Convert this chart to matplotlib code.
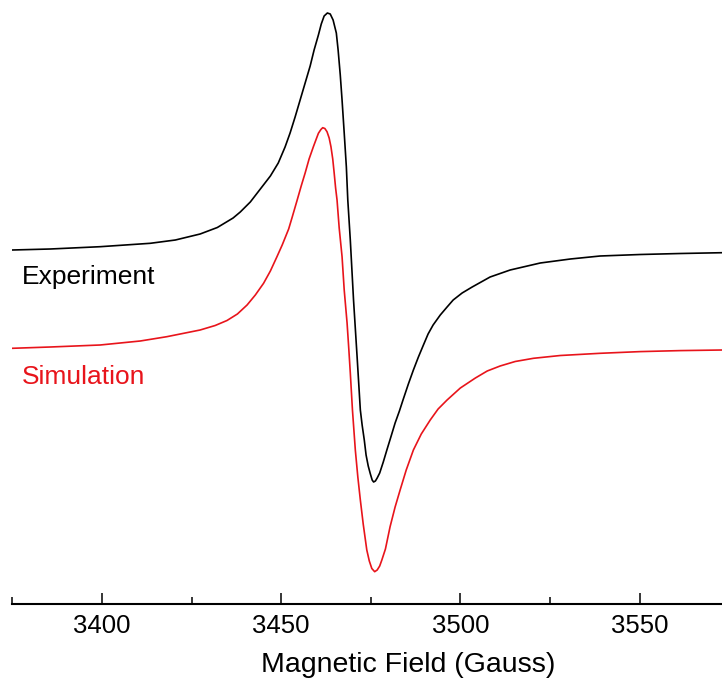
import matplotlib
matplotlib.use("Agg")
import matplotlib.pyplot as plt
from matplotlib.ticker import MultipleLocator

plt.rcParams['font.family'] = ['Liberation Sans', 'DejaVu Sans']

# Magnetic field (Gauss) and intensity (a.u.)
exp_field = [3375.0, 3385.6, 3399.5, 3413.5, 3420.5, 3427.4, 3432.2, 3436.6, 3438.6,
             3441.4, 3444.2, 3447.0, 3449.2, 3451.1, 3452.5, 3453.9, 3455.3, 3456.7,
             3458.1, 3459.2, 3460.4, 3461.2, 3462.0, 3462.9, 3463.7, 3464.5, 3465.4,
             3465.9, 3466.5, 3467.0, 3467.6, 3468.2, 3468.6, 3469.3, 3470.2, 3471.2,
             3472.1, 3472.6, 3473.2, 3473.7, 3474.3, 3474.9, 3475.4, 3475.8, 3476.3,
             3476.8, 3477.5, 3478.5, 3479.5, 3480.7, 3481.8, 3483.0, 3484.0, 3485.5,
             3486.9, 3488.3, 3489.7, 3491.0, 3492.4, 3494.4, 3496.3, 3498.0, 3500.5,
             3503.3, 3508.3, 3513.9, 3522.3, 3530.7, 3539.0, 3550.2, 3561.4, 3573.1]
exp_signal = [354.0, 355.0, 357.3, 360.7, 364.0, 370.0, 376.5, 386.0, 392.0,
              402.0, 415.0, 428.0, 441.0, 457.0, 471.0, 487.0, 504.0, 521.0,
              538.0, 554.0, 569.0, 580.0, 588.0, 591.0, 590.0, 584.0, 571.0,
              554.0, 529.0, 504.0, 471.0, 437.0, 404.0, 364.0, 304.0, 247.0,
              194.0, 179.0, 164.0, 149.0, 138.0, 130.0, 124.0, 122.0, 123.0,
              126.0, 131.0, 142.0, 154.0, 168.0, 181.0, 193.0, 204.0, 220.0,
              234.0, 247.0, 259.0, 270.0, 279.0, 289.0, 297.0, 304.0, 311.0,
              317.0, 327.0, 334.0, 341.0, 345.0, 348.0, 349.5, 350.5, 351.3]

sim_field = [3375.0, 3385.6, 3399.5, 3410.7, 3418.1, 3427.4, 3431.6, 3434.9, 3437.8,
             3440.5, 3442.8, 3445.1, 3447.0, 3448.8, 3450.3, 3452.1, 3453.1, 3454.4,
             3455.6, 3456.7, 3457.8, 3459.0, 3459.8, 3460.4, 3461.1, 3461.6, 3462.2,
             3462.8, 3463.4, 3463.9, 3464.4, 3464.8, 3465.2, 3465.6, 3466.2, 3467.0,
             3467.6, 3468.4, 3468.9, 3469.3, 3469.9, 3470.7, 3471.4, 3472.1, 3472.9,
             3473.9, 3474.6, 3475.3, 3476.1, 3476.8, 3477.5, 3478.1, 3479.1, 3480.4,
             3481.8, 3483.2, 3484.9, 3486.9, 3489.1, 3491.6, 3493.8, 3496.3, 3500.0,
             3504.2, 3507.5, 3511.1, 3515.3, 3520.4, 3527.9, 3539.0, 3550.2, 3561.4,
             3573.1]
sim_signal = [255.7, 257.0, 259.0, 263.0, 267.3, 274.0, 278.5, 283.5, 290.0,
              299.0, 309.0, 320.7, 333.0, 347.0, 359.0, 375.0, 387.0, 403.0,
              418.0, 431.0, 445.0, 457.3, 465.0, 470.7, 474.5, 476.3, 475.5,
              472.3, 466.0, 457.3, 445.0, 431.0, 416.0, 404.0, 376.0, 347.3,
              314.0, 281.0, 254.0, 231.0, 194.0, 154.0, 127.0, 104.0, 80.0,
              54.0, 43.0, 35.5, 32.3, 34.0, 38.0, 44.0, 55.0, 77.3,
              97.0, 114.0, 134.0, 154.0, 170.0, 184.0, 195.0, 204.0, 216.0,
              226.0, 233.0, 238.0, 242.5, 245.7, 248.5, 250.7, 252.4, 253.4,
              254.0]

labels = ["Experiment", "Simulation"]
major_ticks = [3400, 3450, 3500, 3550]

W, H = 722, 683
fig = plt.figure(figsize=(W / 100, H / 100), dpi=100)
ax_left = 12.3 / W
ax_bottom = (H - 604) / H
ax = fig.add_axes([ax_left, ax_bottom, 1 - ax_left, 1 - ax_bottom])

ax.plot(exp_field, exp_signal, color='black', lw=1.2)
ax.plot(sim_field, sim_signal, color='#e8141b', lw=1.2)

ax.set_xlim(3375, 3573.0)
ax.set_ylim(0, 604)

for s in ['top', 'right', 'left']:
    ax.spines[s].set_visible(False)
ax.spines['bottom'].set_linewidth(1.5)
ax.set_yticks([])
ax.set_xticks(major_ticks)
ax.xaxis.set_minor_locator(MultipleLocator(25))
ax.tick_params(axis='x', which='major', direction='in', length=8, width=1.1,
               labelsize=18.5, pad=7)
ax.tick_params(axis='x', which='minor', direction='in', length=5, width=1.1)
ax.set_xticklabels([str(t) for t in major_ticks])

ax.text(3377.7, 320, labels[0], fontsize=19, color='black', va='baseline', ha='left')
ax.text(3377.7, 220, labels[1], fontsize=19, color='#e8141b', va='baseline', ha='left')

fig.text(408.3 / W, 11.3 / H, "Magnetic Field (Gauss)", fontsize=20.5,
         ha='center', va='baseline')

fig.savefig("out.png", dpi=100)
